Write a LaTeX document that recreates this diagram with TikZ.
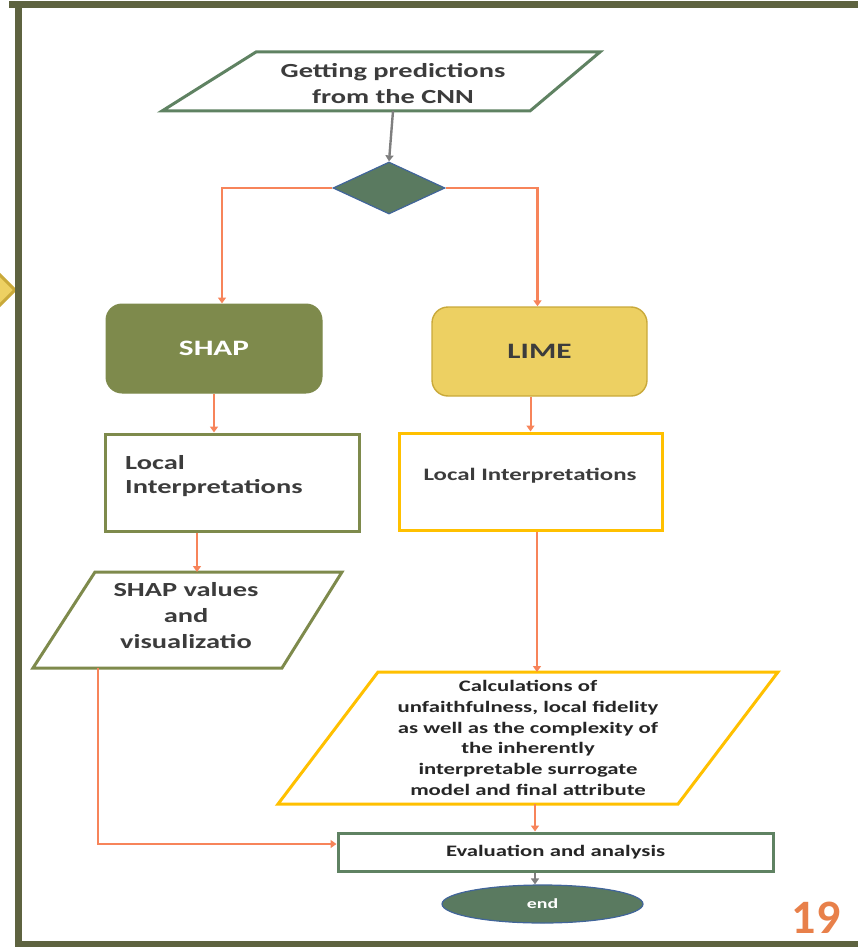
\documentclass[tikz,border=0pt]{standalone}
\usepackage{fontspec}
\setmainfont{Carlito}[FakeStretch=1.42]
\newfontfamily\numfont{Carlito}
\usetikzlibrary{arrows.meta,shapes.geometric}
\definecolor{frameolive}{HTML}{5E6340}
\definecolor{shapfill}{HTML}{7E8A4C}
\definecolor{limefill}{HTML}{EDD062}
\definecolor{limeborder}{HTML}{C9A93A}
\definecolor{greenline}{HTML}{5F8262}
\definecolor{darkgreen}{HTML}{5A7A60}
\definecolor{blueline}{HTML}{41659A}
\definecolor{orangeline}{HTML}{F7845A}
\definecolor{yellowline}{HTML}{FFC000}
\definecolor{txt}{HTML}{3C3C3C}
\definecolor{grayline}{HTML}{7F7F7F}
\definecolor{numorange}{HTML}{E8804A}
\tikzset{
  oarrow/.style={draw=orangeline,line width=2.8pt,-{Triangle[width=8pt,length=6pt]}},
  oarrowthin/.style={draw=orangeline,line width=2pt,-{Triangle[width=8pt,length=6pt]}},
  garrow/.style={draw=grayline,line width=2.4pt,-{Triangle[width=8pt,length=6pt]}},
  lbl/.style={font=\bfseries,text=txt,align=center,inner sep=0pt},
  roundbox/.style={rounded corners=16pt,inner sep=0pt,line width=1pt},
  plainbox/.style={rectangle,inner sep=0pt,line width=3pt,fill=white},
}
\begin{document}
\begin{tikzpicture}[x=1pt,y=-1pt]
\useasboundingbox (0,0) rectangle (858,947);
\clip (0,0) rectangle (858,947);
% left gold diamond (partial)
\fill[limefill,draw=limeborder,line width=3pt] (15,290) -- (-13,262) -- (-41,290) -- (-13,318) -- cycle;
% frame
\fill[frameolive] (9,1) rectangle (858,8);
\fill[frameolive] (15,1) rectangle (22,947);
\fill[frameolive] (15,941) rectangle (858,947);

% top parallelogram
\draw[greenline,line width=3pt,fill=white] (256,52) -- (600,52) -- (530,111) -- (162,111) -- cycle;
\node[lbl,font=\fontsize{20}{26}\selectfont\bfseries] (pred) at (393,84) {Getting predictions\\from the CNN};
\coordinate (predb) at (393,111);

% decision diamond
\node[diamond,fill=darkgreen,draw=blueline,line width=1.2pt,minimum width=112pt,minimum height=52pt,inner sep=0pt] (dec) at (389,188) {};

% SHAP and LIME
\node[roundbox,fill=shapfill,draw=shapfill,minimum width=216pt,minimum height=89pt,font=\fontsize{22}{26}\selectfont\bfseries,text=white] (shap) at (214,348.5) {SHAP};
\node[roundbox,fill=limefill,draw=limeborder,line width=1.4pt,minimum width=215pt,minimum height=89pt,font=\fontsize{22}{26}\selectfont\bfseries,text=txt] (lime) at (539.5,351.5) {LIME};

% local interpretation boxes
\node[plainbox,draw=shapfill,minimum width=254pt,minimum height=97pt] (loc1) at (232,482.5) {};
\node[lbl,anchor=west,align=left,font=\fontsize{20}{24}\selectfont\bfseries] (loc1t) at (125,476) {Local\\Interpretations};
\node[plainbox,draw=yellowline,minimum width=263pt,minimum height=97pt] (loc2) at (530.5,481.5) {};
\node[lbl,font=\fontsize{17.5}{22}\selectfont\bfseries] (loc2t) at (530,476) {Local Interpretations};

% SHAP values parallelogram
\draw[shapfill,line width=3pt,fill=white] (95,572) -- (342,572) -- (282,668) -- (33,668) -- cycle;
\coordinate (svt) at (197,572);
\coordinate (svb) at (98,668);
\node[lbl,font=\fontsize{20}{26}\selectfont\bfseries] (sv) at (186,616) {SHAP values\\and\\visualizatio};

% calculations parallelogram
\draw[yellowline,line width=3pt,fill=white] (378,672) -- (778,672) -- (678,804) -- (278,804) -- cycle;
\coordinate (calct) at (537,672);
\coordinate (calcb) at (535,804);
\node[lbl,font=\fontsize{16}{20.7}\selectfont\bfseries,text=black!85] (calc) at (528,738) {Calculations of\\unfaithfulness, local fidelity\\as well as the complexity of\\the inherently\\interpretable surrogate\\model and final attribute};

% evaluation and end
\node[plainbox,draw=greenline,minimum width=435pt,minimum height=38pt,font=\fontsize{16}{20}\selectfont\bfseries,text=black!85] (eval) at (555.5,852) {Evaluation and analysis};
\node[ellipse,fill=darkgreen,draw=blueline,line width=1.2pt,minimum width=201pt,minimum height=38pt,inner sep=0pt,font=\fontsize{14}{16}\selectfont\bfseries,text=white] (endn) at (542.5,904) {end};

% page number
\node[inner sep=0pt,font=\numfont\fontsize{48}{48}\selectfont\bfseries,text=numorange] (pg) at (816,918) {19};

% connectors
\draw[garrow] (predb) -- (dec.north);
\draw[oarrow] (dec.west) -| ([xshift=8pt]shap.north);
\draw[oarrow] (dec.east) -| ([xshift=-2pt]lime.north);
\draw[oarrowthin] (shap.south) -- (shap.south |- loc1.north);
\draw[oarrowthin] (loc2.north |- lime.south) -- (loc2.north);
\draw[oarrowthin] (svt |- loc1.south) -- (svt);
\draw[oarrow] (calct |- loc2.south) -- (calct);
\draw[oarrow] (svb) |- ([yshift=8pt]eval.west);
\draw[oarrowthin] (calcb) -- (calcb |- eval.north);
\draw[garrow] (calcb |- eval.south) -- (calcb |- endn.north);
\end{tikzpicture}
\end{document}
